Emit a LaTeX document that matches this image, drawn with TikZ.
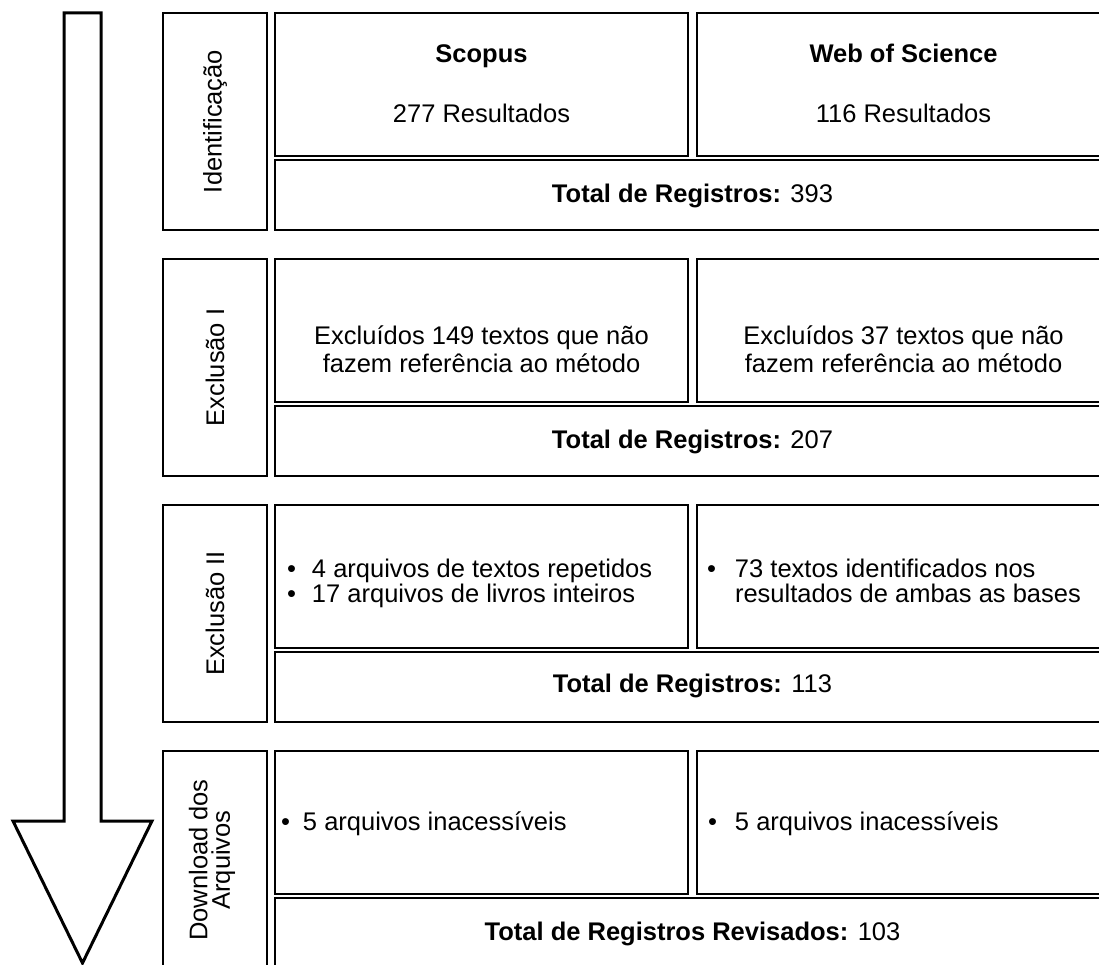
\documentclass[tikz,border=0pt]{standalone}
\usepackage{fontspec}
\setmainfont{Liberation Sans}
\newcommand{\fs}{\fontsize{25.5}{28}\selectfont}
\newcommand{\bl}[1]{\makebox[#1][l]{•}}
\begin{document}
\begin{tikzpicture}[x=1pt,y=-1pt,
  box/.style={draw, line width=1.8pt, anchor=north west, inner sep=0pt, outer sep=0pt},
  labbox/.style={box, minimum width=104pt, minimum height=217pt},
  halfbox/.style={box, minimum width=413pt, minimum height=143pt},
  totbox/.style={box, minimum width=835pt, minimum height=70pt},
  txt/.style={inner sep=0pt, outer sep=0pt, font=\fs},
  lab/.style={txt, rotate=90, anchor=center, align=center},
  bigarrow/.style={draw, line width=3pt, line join=miter, fill=white}]
\useasboundingbox (0,0) rectangle (1099,965);

% big arrow
\draw[bigarrow] (64,13) -- (101,13) -- (101,821) -- (152,821) -- (82.5,963)
  -- (13,821) -- (64,821) -- cycle;

% ---------- group 1 ----------
\node[labbox] (l1) at (163,13) {};
\node[halfbox] (a1) at (275,13) {};
\node[halfbox] (b1) at (697,13) {};
\node[totbox] (t1) at (275,160) {};
\node[lab] (l1t) at (215,121.5) {Identificação};
\node[txt, anchor=base] (a1h) at (481.5,63) {\textbf{Scopus}};
\node[txt, anchor=base] (a1r) at (481.5,123) {277 Resultados};
\node[txt, anchor=base] (b1h) at (903.5,63) {\textbf{Web of Science}};
\node[txt, anchor=base] (b1r) at (903.5,123) {116 Resultados};
\node[txt, anchor=base] (t1t) at (692.5,203) {\textbf{Total de Registros:} 393};

% ---------- group 2 ----------
\node[labbox] (l2) at (163,259) {};
\node[halfbox] (a2) at (275,259) {};
\node[halfbox] (b2) at (697,259) {};
\node[totbox] (t2) at (275,406) {};
\node[lab] (l2t) at (215,367.5) {Exclusão I};
\node[txt, anchor=base] (a2t) at (481.5,344) {\begin{tabular}[t]{@{}c@{}}Excluídos 149 textos que não\\fazem referência ao método\end{tabular}};
\node[txt, anchor=base] (b2t) at (903.5,344) {\begin{tabular}[t]{@{}c@{}}Excluídos 37 textos que não\\fazem referência ao método\end{tabular}};
\node[txt, anchor=base] (t2t) at (692.5,448) {\textbf{Total de Registros:} 207};

% ---------- group 3 ----------
\node[labbox] (l3) at (163,505) {};
\node[halfbox] (a3) at (275,505) {};
\node[halfbox] (b3) at (697,505) {};
\node[totbox] (t3) at (275,652) {};
\node[lab] (l3t) at (215,613.5) {Exclusão II};
\node[txt, anchor=base west, font=\fontsize{25.5}{24}\selectfont] (a3t) at (287,577)
  {\begin{tabular}[t]{@{}l@{}}\bl{25pt}4 arquivos de textos repetidos\\\bl{25pt}17 arquivos de livros inteiros\end{tabular}};
\node[txt, anchor=base west, font=\fontsize{25.5}{24}\selectfont] (b3t) at (707,577)
  {\begin{tabular}[t]{@{}l@{}}\bl{28pt}73 textos identificados nos\\\hspace*{28pt}resultados de ambas as bases\end{tabular}};
\node[txt, anchor=base] (t3t) at (692.5,692) {\textbf{Total de Registros:} 113};

% ---------- group 4 ----------
\node[labbox] (l4) at (163,751) {};
\node[halfbox] (a4) at (275,751) {};
\node[halfbox] (b4) at (697,751) {};
\node[totbox] (t4) at (275,898) {};
\node[lab, font=\fontsize{25.5}{22.5}\selectfont] (l4t) at (212,860) {Download dos\\Arquivos};
\node[txt, anchor=base west] (a4t) at (281,830) {\bl{22pt}5 arquivos inacessíveis};
\node[txt, anchor=base west] (b4t) at (708,830) {\bl{27pt}5 arquivos inacessíveis};
\node[txt, anchor=base] (t4t) at (692.5,940) {\textbf{Total de Registros Revisados:} 103};
\end{tikzpicture}
\end{document}
